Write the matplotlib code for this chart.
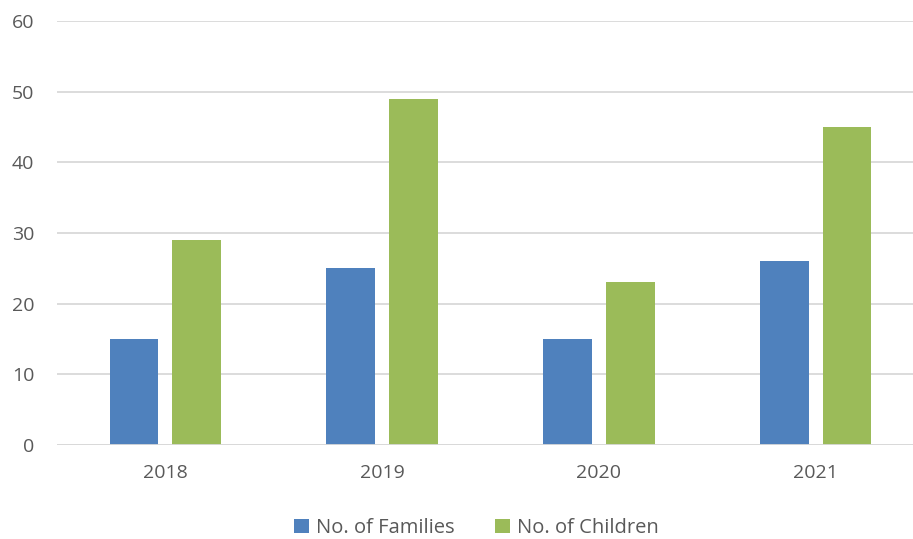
import numpy as np
import matplotlib.pyplot as plt

years = ["2018", "2019", "2020", "2021"]
families = [15, 25, 15, 26]
children = [29, 49, 23, 45]

plt.rcParams['font.family'] = ['Open Sans', 'DejaVu Sans']

W, H = 913, 539
fig = plt.figure(figsize=(W / 100, H / 100), dpi=100)
# plot area runs a little past the right edge of the image, as in the original
ax = fig.add_axes([57 / W, (H - 445) / H, (924 - 57) / W, (445 - 21) / H])

x = np.arange(len(years))
bw = 0.225
off = 0.145
ax.bar(x - off, families, bw, color="#4F81BD", label="No. of Families", zorder=3)
ax.bar(x + off, children, bw, color="#9BBB59", label="No. of Children", zorder=3)

ax.set_xlim(-0.5, len(years) - 0.5)
ax.set_ylim(0, 60)
ax.set_yticks(range(0, 61, 10))
ax.set_xticks(x)
ax.set_xticklabels(years)
ax.yaxis.grid(True, color="#D9D9D9", linewidth=1.3, zorder=0)
for s in ax.spines.values():
    s.set_visible(False)
ax.axhline(0, color="#D9D9D9", linewidth=1.3, zorder=4)
ax.tick_params(length=0, labelsize=14, colors="#595959")
ax.tick_params(axis='y', pad=16.5)
ax.tick_params(axis='x', pad=14)

leg = fig.legend(loc="center", bbox_to_anchor=(476 / W, (H - 528) / H), ncol=2,
                 frameon=False, fontsize=14.5, handlelength=0.75, handleheight=0.75,
                 handletextpad=0.35, columnspacing=2.0)
for t in leg.get_texts():
    t.set_color("#595959")

fig.savefig("out.png", dpi=100)
